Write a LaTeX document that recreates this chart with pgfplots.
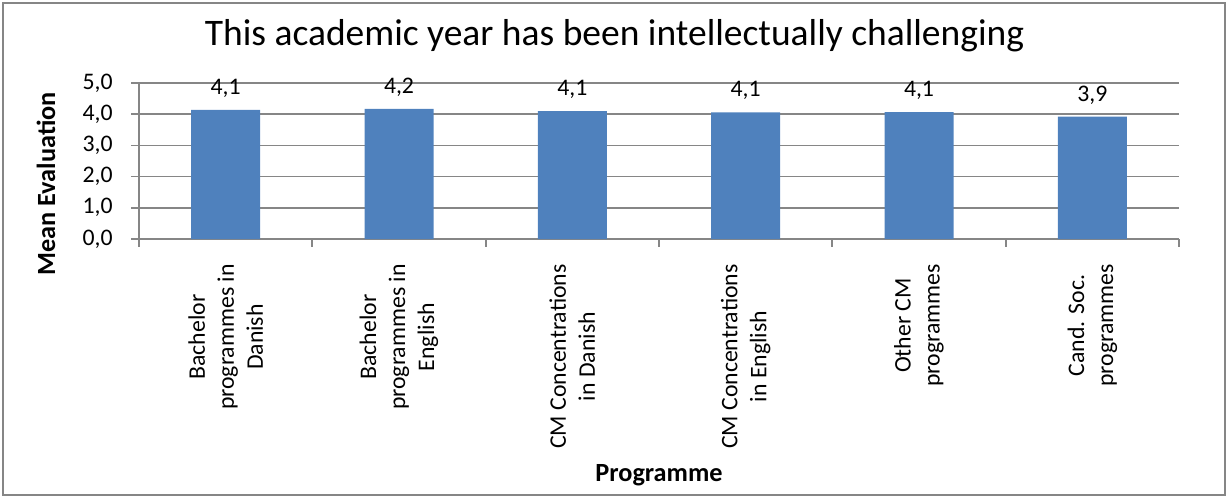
\documentclass[border=0pt]{standalone}
\usepackage{pgfplots}
\pgfplotsset{compat=1.18}
\usepackage{fontspec}
\setmainfont{Carlito}
\definecolor{barblue}{HTML}{4F81BD}
\definecolor{gridgray}{HTML}{868686}
\begin{document}
\begin{tikzpicture}
\begin{axis}[
    name=ax,
    width=416pt, height=62.4pt,
    scale only axis,
    ybar, bar width=27.6pt,
    xmin=0.5, xmax=6.5,
    ymin=0, ymax=5,
    ytick={0,1,2,3,4,5},
    xtick={1,2,3,4,5,6},
    xticklabels={
        {Bachelor\\programmes in\\Danish},
        {Bachelor\\programmes in\\English},
        {CM Concentrations\\in Danish},
        {CM Concentrations\\in English},
        {Other CM\\programmes},
        {Cand. Soc.\\programmes}},
    minor xtick={0.5,1.5,2.5,3.5,4.5,5.5,6.5},
    major x tick style={draw=none},
    tick align=outside,
    major tick length=3pt,
    minor tick length=3pt,
    every tick/.style={gridgray, line width=0.7pt},
    axis x line*=bottom,
    axis y line*=left,
    axis line style={gridgray, line width=0.7pt},
    ymajorgrids,
    grid style={gridgray, line width=0.7pt},
    /pgf/number format/assume math mode=true,
    /pgf/number format/fixed,
    /pgf/number format/fixed zerofill,
    /pgf/number format/precision=1,
    /pgf/number format/use comma,
    ticklabel style={font=\fontsize{9.5}{11.6}\selectfont},
    xticklabel style={rotate=90, anchor=east, align=center},
    xticklabel shift=3.6pt,
    yticklabel shift=4pt,
    nodes near coords,
    every node near coord/.append style={font=\fontsize{9.5}{11.6}\selectfont, black, yshift=1.4pt},
    title={This academic year has been intellectually challenging},
    title style={font=\fontsize{15}{18}\selectfont, at={(rel axis cs:0.5,1)}, anchor=base, xshift=-17.8pt, yshift=9.2pt},
    xlabel={Programme},
    ylabel={Mean Evaluation},
    every axis x label/.style={font=\bfseries\fontsize{10.5}{12.6}\selectfont, at={(rel axis cs:0.5,0)}, anchor=center, yshift=-94.4pt},
    every axis y label/.style={font=\bfseries\fontsize{10.5}{12.6}\selectfont, at={(rel axis cs:0,0.5)}, xshift=-37.2pt, yshift=-9.2pt, rotate=90, anchor=center},
]
\addplot[fill=barblue, draw=none] coordinates {
    (1,4.14)
    (2,4.17)
    (3,4.10)
    (4,4.06)
    (5,4.07)
    (6,3.92)
};
\end{axis}
\draw[gridgray, line width=0.8pt] ([xshift=-54.4pt,yshift=-102.4pt]ax.south west) rectangle ([xshift=434.4pt,yshift=94.4pt]ax.south west);
\path ([xshift=-55.6pt,yshift=-102.8pt]ax.south west) rectangle ([xshift=436pt,yshift=95.6pt]ax.south west);
\end{tikzpicture}
\end{document}
